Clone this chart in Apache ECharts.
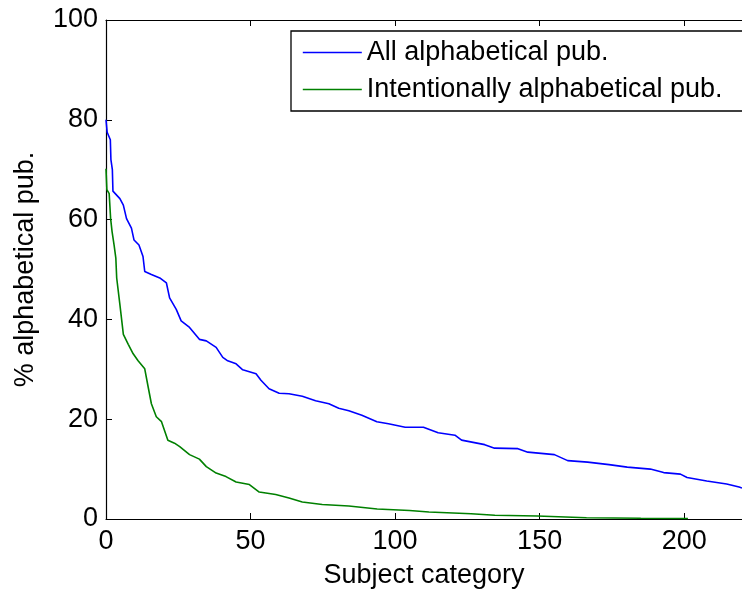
<!DOCTYPE html>
<html>
<head>
<meta charset="utf-8">
<script src="https://cdn.jsdelivr.net/npm/echarts@6/dist/echarts.min.js"></script>
<style>
html,body{margin:0;padding:0;background:#fff;}
#c{width:742px;height:594px;}
</style>
</head>
<body>
<div id="c"></div>
<script>
// Data
var seriesNames = ["All alphabetical pub.", "Intentionally alphabetical pub."];
var allX = [0, 0.4, 1.5, 1.7, 2.2, 2.4, 4.8, 6.0, 7.1, 8.8, 9.7, 11.4, 12.8, 13.4, 15.7, 18.6, 20.9, 22.0, 24.3, 26.0, 28.9, 32.3, 34.7, 38.1, 40.4, 42.1, 45.0, 47.3, 51.9, 53.6, 56.4, 59.9, 63.3, 67.9, 72.5, 77.1, 80.5, 84.0, 88.5, 93.7, 97.7, 103.5, 109.8, 114.9, 120.7, 123.0, 131.0, 134.4, 142.5, 145.9, 155.1, 159.7, 166.6, 174.0, 180.3, 188.3, 192.9, 198.7, 201.0, 207.8, 214.7, 219.0, 220.0];
var allY = [80, 77.5, 76, 72, 70, 65.7, 64.2, 62.9, 60.2, 58.3, 55.9, 54.9, 52.6, 49.6, 49.0, 48.3, 47.3, 44.3, 42.0, 39.7, 38.4, 36.0, 35.7, 34.4, 32.4, 31.7, 31.1, 29.9, 29.1, 27.8, 26.1, 25.2, 25.1, 24.6, 23.7, 23.1, 22.2, 21.7, 20.8, 19.5, 19.1, 18.4, 18.4, 17.3, 16.8, 15.8, 14.9, 14.2, 14.1, 13.4, 12.9, 11.7, 11.4, 10.9, 10.4, 10.0, 9.3, 9.0, 8.3, 7.6, 7.0, 6.4, 6.2];
var intX = [0, 0.3, 1.1, 1.6, 2.1, 2.8, 3.4, 3.7, 4.8, 6.0, 7.7, 9.4, 11.1, 13.4, 14.6, 15.7, 17.4, 19.2, 21.4, 23.7, 25.5, 28.9, 32.3, 34.7, 38.1, 41.5, 45.0, 49.6, 53.0, 58.7, 63.3, 67.9, 74.8, 84.0, 93.8, 105.0, 111.7, 126.3, 134.5, 149.2, 166.2, 185.0, 201.3];
var intY = [70.2, 66, 65.2, 60.2, 57.6, 54.9, 52.3, 48.3, 43.0, 37.0, 35.0, 33.1, 31.7, 30.1, 26.4, 23.1, 20.5, 19.5, 15.8, 15.2, 14.5, 12.9, 12.0, 10.5, 9.2, 8.5, 7.4, 6.9, 5.4, 4.9, 4.2, 3.4, 2.9, 2.6, 2.0, 1.7, 1.4, 1.05, 0.75, 0.6, 0.25, 0.15, 0.1];
var xTicks = {min: 0, max: 220, interval: 50};
var yTicks = {min: 0, max: 100, interval: 20};

function pairs(xs, ys) { return xs.map(function (x, i) { return [x, ys[i]]; }); }

var FONT = "'Liberation Sans', Arial, sans-serif";
var chart = echarts.init(document.getElementById('c'), null, {renderer: 'canvas'});
var axisLineStyle = {color: '#000', width: 1.2};
chart.setOption({
  animation: false,
  backgroundColor: '#fff',
  grid: {left: 106, top: 20, width: 639, height: 503, containLabel: false},
  legend: {
    left: 291, top: 31,
    orient: 'vertical',
    data: seriesNames,
    backgroundColor: '#fff',
    borderColor: '#000', borderWidth: 1.3, borderRadius: 0,
    padding: [8, 24, 8, 11],
    itemWidth: 59, itemHeight: 27, itemGap: 10,
    itemStyle: {opacity: 0},
    lineStyle: {width: 1.6},
    textStyle: {fontFamily: FONT, fontSize: 27, color: '#000', padding: [0, 0, 0, 0]}
  },
  xAxis: [{
    type: 'value', min: xTicks.min, max: xTicks.max, interval: xTicks.interval,
    position: 'bottom',
    name: 'Subject category', nameLocation: 'middle', nameGap: 43,
    nameTextStyle: {fontFamily: FONT, fontSize: 27, color: '#000'},
    axisLine: {show: true, lineStyle: axisLineStyle},
    axisTick: {show: true, inside: true, length: 6, lineStyle: {color: '#000'}},
    axisLabel: {fontFamily: FONT, fontSize: 27, color: '#000', margin: 9, showMaxLabel: false},
    splitLine: {show: false}
  }, {
    type: 'value', min: xTicks.min, max: xTicks.max, interval: xTicks.interval,
    position: 'top',
    axisLine: {show: true, lineStyle: axisLineStyle},
    axisTick: {show: true, inside: true, length: 6, lineStyle: {color: '#000'}},
    axisLabel: {show: false},
    splitLine: {show: false}
  }],
  yAxis: [{
    type: 'value', min: yTicks.min, max: yTicks.max, interval: yTicks.interval,
    position: 'left',
    name: '% alphabetical pub.', nameLocation: 'middle', nameGap: 67, nameRotate: 90,
    nameTextStyle: {fontFamily: FONT, fontSize: 27, color: '#000'},
    axisLine: {show: true, lineStyle: axisLineStyle},
    axisTick: {show: true, inside: true, length: 6, lineStyle: {color: '#000'}},
    axisLabel: {fontFamily: FONT, fontSize: 27, color: '#000', margin: 8},
    splitLine: {show: false}
  }],
  series: [{
    name: seriesNames[0], type: 'line', symbol: 'none', showSymbol: false,
    data: pairs(allX, allY),
    lineStyle: {color: '#0000ff', width: 1.6},
    itemStyle: {color: '#0000ff'},
    z: 3
  }, {
    name: seriesNames[1], type: 'line', symbol: 'none', showSymbol: false,
    data: pairs(intX, intY),
    lineStyle: {color: '#008000', width: 1.6},
    itemStyle: {color: '#008000'},
    z: 3
  }]
});
</script>
</body>
</html>
